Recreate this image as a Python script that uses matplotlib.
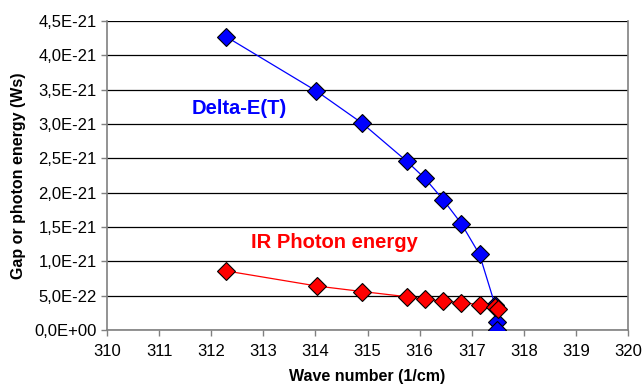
import matplotlib
matplotlib.use("Agg")
import matplotlib.pyplot as plt
import matplotlib.ticker as mticker

plt.rcParams["font.family"] = ["Liberation Sans", "DejaVu Sans"]

# ── data ─────────────────────────────────────────────────────────────────────
wave_gap = [312.29, 314.02, 314.90, 315.75, 316.10, 316.45, 316.80, 317.15, 317.45, 317.49, 317.49]
gap = [4.27e-21, 3.48e-21, 3.01e-21, 2.46e-21, 2.21e-21, 1.90e-21, 1.55e-21, 1.10e-21, 0.36e-21, 0.12e-21, 0.0]

wave_ir = [312.29, 314.03, 314.90, 315.75, 316.10, 316.45, 316.80, 317.15, 317.45, 317.50]
ir = [0.86e-21, 0.64e-21, 0.56e-21, 0.485e-21, 0.45e-21, 0.42e-21, 0.40e-21, 0.37e-21, 0.33e-21, 0.30e-21]

x_ticks = [310, 311, 312, 313, 314, 315, 316, 317, 318, 319, 320]
y_ticks = [0.0, 0.5e-21, 1.0e-21, 1.5e-21, 2.0e-21, 2.5e-21, 3.0e-21, 3.5e-21, 4.0e-21, 4.5e-21]

BLUE = "#0000ff"
RED = "#ff0000"

fig = plt.figure(figsize=(6.43, 3.87), dpi=100)
ax = fig.add_axes([0.1664, 0.1473, 0.9767 - 0.1664, 0.9457 - 0.1473])

ax.plot(wave_gap, gap, color=BLUE, lw=0.9, marker="D", ms=9,
        mfc=BLUE, mec="black", mew=0.8, zorder=3)
ax.plot(wave_ir, ir, color=RED, lw=0.9, marker="D", ms=9,
        mfc=RED, mec="black", mew=0.8, zorder=3)

ax.text(312.53, 3.23e-21, "Delta-E(T)", color=BLUE, fontsize=14.5,
        fontweight="bold", ha="center", va="center")
ax.text(314.36, 1.27e-21, "IR Photon energy", color=RED, fontsize=14.5,
        fontweight="bold", ha="center", va="center")

ax.set_xlim(310, 320)
ax.set_ylim(0, 4.5e-21)
ax.set_xticks(x_ticks)
ax.set_yticks(y_ticks)


def sci_comma(v, _):
    s = f"{v:.1E}"
    mant, exp = s.split("E")
    sign = exp[0]
    e = int(exp[1:])
    return f"{mant.replace('.', ',')}E{sign}{e:02d}"


ax.yaxis.set_major_formatter(mticker.FuncFormatter(sci_comma))
ax.grid(axis="y", color="black", lw=0.9)
ax.set_axisbelow(True)

ax.spines["top"].set_visible(False)
for side in ["left", "bottom", "right"]:
    ax.spines[side].set_color("#808080")
    ax.spines[side].set_linewidth(1.2)

ax.tick_params(direction="out", length=4, width=1, color="#808080",
               labelsize=12, labelcolor="black")
ax.tick_params(axis="x", pad=6)

ax.set_xlabel("Wave number (1/cm)", fontsize=11.5, fontweight="bold", labelpad=7)
ax.set_ylabel("Gap or photon energy (Ws)", fontsize=11.5, fontweight="bold", labelpad=6)

fig.savefig("out.png", dpi=100)
